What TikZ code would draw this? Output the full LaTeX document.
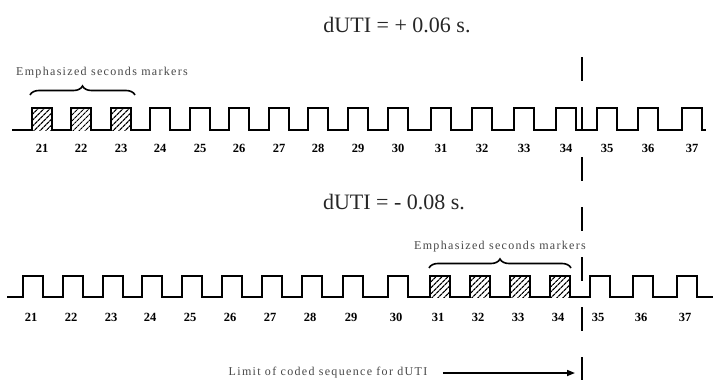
\documentclass[tikz,border=0pt]{standalone}
\usepackage{fontspec}
\setmainfont{Liberation Serif}
\newfontfamily\spacedfont[LetterSpace=11]{Liberation Serif}
\usetikzlibrary{arrows.meta,decorations.pathreplacing,patterns.meta}

\begin{document}
\begin{tikzpicture}[x=1pt,y=-1pt,
	wave/.style={line width=2.3pt,line join=miter},
	hatch/.style={pattern={Lines[angle=45,distance=4pt,line width=1.2pt]}},
	num/.style={font=\fontsize{12.5}{12.5}\selectfont\bfseries},
	note/.style={font=\fontsize{12}{12}\spacedfont,text=black!72},
	title/.style={font=\fontsize{22}{22}\selectfont,text=black!85},
	brc/.style={decorate,decoration={brace,amplitude=9pt},line width=1.6pt},
	cut/.style={dash pattern=on 24pt off 26pt,line width=1.6pt}]
	\useasboundingbox (0,0) rectangle (713,380);
	
	% upper sequence, dUTI > 0
	\node[title] (dutiA) at (397,25) {dUTI = + 0.06 s.};
	\node[note] (emphA) at (102,73) {Emphasized seconds markers};
	\coordinate (bA1) at (30,95);
	\coordinate (bA2) at (135,95);
	\draw[brc] (bA1) -- (bA2);
	\foreach \r in {32,71,111}
		\fill[hatch] (\r,108) rectangle ++(20,22);
	\draw[wave] (12,130) \foreach \r in {32,71,111,150,190,229,269,308,348,388,431,472,514,556,597,638,682}
		{ -- (\r,130) -- (\r,108) -- (\r+20,108) -- (\r+20,130) } -- (706,130);
	\foreach \r [count=\i from 21] in {32,71,111,150,190,229,269,308,348,388,431,472,514,556,597,638,682}
		\node[num] (a\i) at (\r+10,148) {\i};
	
	% lower sequence, dUTI < 0
	\node[title] (dutiB) at (394,202) {dUTI = - 0.08 s.};
	\node[note] (emphB) at (500,247) {Emphasized seconds markers};
	\coordinate (bB1) at (429,268);
	\coordinate (bB2) at (571,268);
	\draw[brc] (bB1) -- (bB2);
	\foreach \r in {430,470,510,550}
		\fill[hatch] (\r,276) rectangle ++(20,21);
	\draw[wave] (7,297) \foreach \r in {23,63,103,142,182,222,262,302,343,388,430,470,510,550,590,633,677}
		{ -- (\r,297) -- (\r,276) -- (\r+20,276) -- (\r+20,297) } -- (713,297);
	\foreach \r [count=\i from 21] in {23,63,103,142,182,222,262,302,343,388,430,470,510,550,590,633,677}
		\node[num] (b\i) at (\r+8,317) {\i};
	
	% limit of coded sequence
	\coordinate (cutTop) at (582,57);
	\coordinate (cutBot) at (582,380);
	\draw[cut] (cutTop) -- (cutBot);
	\node[note] (limit) at (328,373) {Limit of coded sequence for dUTI};
	\coordinate (limEnd) at (575,373);
	\draw[-{Triangle[length=8pt,width=6pt]},line width=1.6pt,shorten <=12pt] (limit.east) -- (limEnd);
\end{tikzpicture}
\end{document}
